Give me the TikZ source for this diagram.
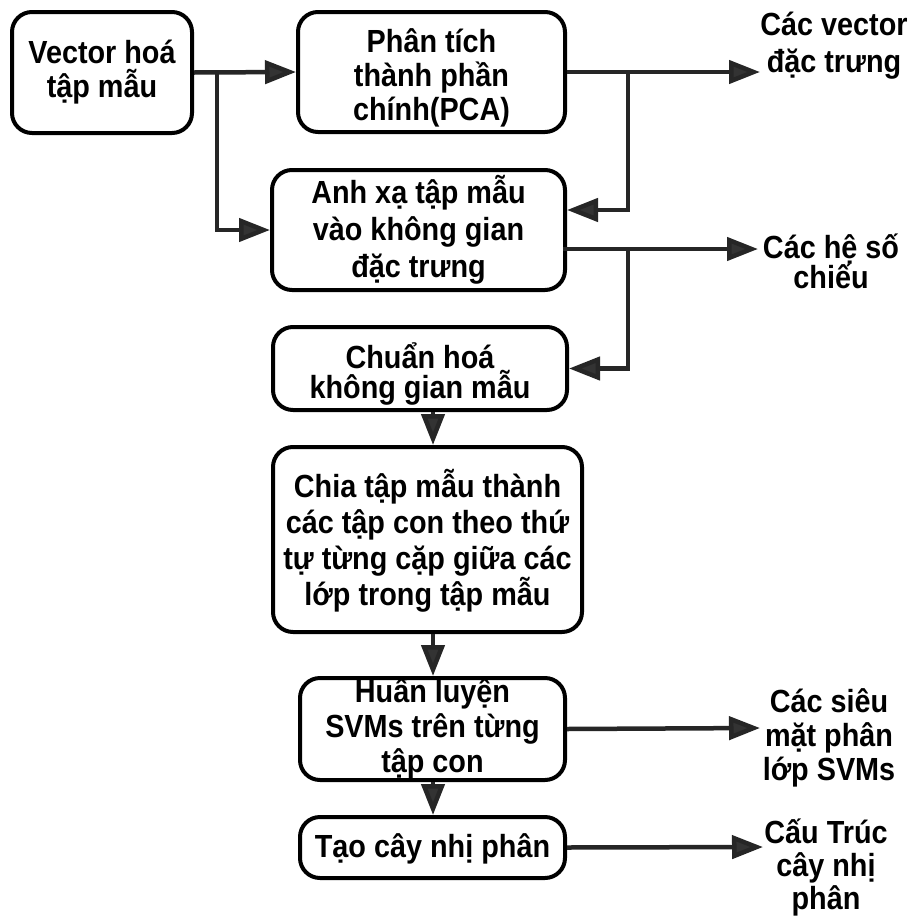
\documentclass[tikz,border=0pt]{standalone}
\usepackage{fontspec}
\setmainfont{Liberation Sans}[FakeStretch=0.9]
\usetikzlibrary{arrows.meta}
\newcommand\lsb[1]{\fontsize{32}{#1}\selectfont\bfseries\lineskiplimit=-60pt\lineskip=0pt}
\begin{document}
\begin{tikzpicture}[x=1pt,y=-1pt,
  box/.style={draw=black,line width=4pt,rounded corners=20pt,inner sep=0pt,fill=white},
  txt/.style={align=center,inner sep=0pt,anchor=base,text=black},
  arr/.style={draw=black!85,line width=4.5pt,line join=miter,
    -{Triangle[length=31pt,width=23pt,fill=black!80]}}]
\useasboundingbox[fill=white] (0,0) rectangle (915,916);

% boxes
\node[box,minimum width=180pt,minimum height=121pt] (b1) at (102,72.5) {};
\node[box,minimum width=267pt,minimum height=120pt] (b2) at (431.5,72) {};
\node[box,minimum width=293pt,minimum height=120pt] (b3) at (418.5,230) {};
\node[box,minimum width=294pt,minimum height=83pt] (b4) at (420,368.5) {};
\node[box,minimum width=309pt,minimum height=185pt] (b5) at (427.5,539.5) {};
\node[box,minimum width=265pt,minimum height=102pt] (b6) at (432.5,729) {};
\node[box,minimum width=265pt,minimum height=61pt] (b7) at (432.5,847.5) {};

% box texts
\node[txt,font=\lsb{34}] (t1) at (102,97) {Vector hoá\\tập mẫu};
\node[txt,font=\lsb{34}] (t2) at (431.5,120) {Phân tích\\thành phần\\chính(PCA)};
\node[txt,font=\lsb{37}] (t3) at (418.5,277) {Anh xạ tập mẫu\\vào không gian\\đặc trưng};
\node[txt,font=\lsb{30}] (t4) at (420,398) {Chuẩn hoá\\không gian mẫu};
\node[txt,font=\lsb{35.7}] (t5) at (427.5,605) {Chia tập mẫu thành\\các tập con theo thứ\\tự từng cặp giữa các\\lớp trong tập mẫu};
\node[txt,font=\lsb{35}] (t6) at (432.5,772) {Huấn luyện\\SVMs trên từng\\tập con};
\node[txt,font=\lsb{35}] (t7) at (432.5,857) {Tạo cây nhị phân};

% outputs
\node[txt,font=\lsb{37}] (r1) at (834,72) {Các vector\\đặc trưng};
\node[txt,font=\lsb{30}] (r2) at (831,288) {Các hệ số\\chiếu};
\node[txt,font=\lsb{34}] (r3) at (829,780) {Các siêu\\mặt phân\\lớp SVMs};
\node[txt,font=\lsb{33}] (r4) at (826,909) {Cấu Trúc\\cây nhị\\phân};

% helper coordinates
\coordinate (j1) at (217,72);
\coordinate (j2) at (628,72);
\coordinate (k1) at (628,210);
\coordinate (j3) at (628,249);
\coordinate (vx) at (433,0);
\coordinate (o1) at (760,72);
\coordinate (o2) at (758,249);
\coordinate (o3) at (760,728);
\coordinate (o4) at (763,847);
\coordinate (s3) at (563,249);

% connectors
\draw[arr] (b1.east) -- (b2.west);
\draw[arr] (j1) |- (b3.west);
\draw[arr] (b2.east) -- (o1);
\draw[arr] (j2) -- (k1) -- (b3.east |- k1);
\draw[arr] (s3) -- (o2);
\draw[arr] (j3) |- (b4.east);
\draw[arr] (b4.south -| vx) -- (b5.north -| vx);
\draw[arr] (b5.south -| vx) -- (b6.north -| vx);
\draw[arr] (b6.south -| vx) -- (b7.north -| vx);
\draw[arr] (b6.east) -- (o3);
\draw[arr] (b7.east) -- (o4);
\end{tikzpicture}
\end{document}
